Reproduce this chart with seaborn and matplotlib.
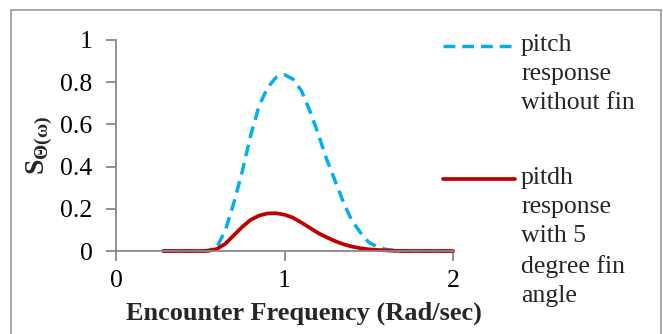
import pandas as pd
import matplotlib.pyplot as plt
import seaborn as sns
from matplotlib.patches import Rectangle
from matplotlib.lines import Line2D

# Encounter frequency (rad/sec) and pitch response spectra
freq = [0.28, 0.35, 0.4, 0.45, 0.5, 0.55, 0.6, 0.65, 0.7, 0.75, 0.8, 0.85, 0.9, 0.95,
        1.0, 1.05, 1.1, 1.15, 1.2, 1.25, 1.3, 1.35, 1.4, 1.45, 1.5, 1.55, 1.6, 1.65,
        1.7, 1.8, 1.9, 2.0]
pitch_no_fin = [0.0, 0.0, 0.0, 0.0, 0.0, 0.003, 0.02, 0.10, 0.23, 0.38, 0.55, 0.69, 0.775, 0.823,
                0.835, 0.815, 0.76, 0.665, 0.555, 0.435, 0.333, 0.23, 0.144, 0.088, 0.041, 0.02, 0.008, 0.003,
                0.001, 0.0, 0.0, 0.0]
pitch_fin5 = [0.0, 0.0, 0.0, 0.0, 0.0, 0.001, 0.01, 0.035, 0.075, 0.115, 0.148, 0.168, 0.178, 0.179,
              0.172, 0.158, 0.135, 0.11, 0.085, 0.065, 0.047, 0.032, 0.021, 0.013, 0.008, 0.005, 0.003, 0.001,
              0.0, 0.0, 0.0, 0.0]

xticks = [0, 1, 2]
yticks = [0, 0.2, 0.4, 0.6, 0.8, 1.0]
ytick_labels = ['0', '0.2', '0.4', '0.6', '0.8', '1']

label_no_fin = 'pitch\nresponse\nwithout fin'
label_fin5 = 'pitdh\nresponse\nwith 5\ndegree fin\nangle'

blue = '#00B0F0'
red = '#C00000'
blue_dash = (0, (3.4, 2.0))

sns.set_style('white')
plt.rcParams['font.family'] = ['Liberation Serif', 'DejaVu Serif']
plt.rcParams['mathtext.fontset'] = 'custom'
plt.rcParams['mathtext.rm'] = 'Liberation Serif'
plt.rcParams['mathtext.bf'] = 'Liberation Serif:bold'

fig = plt.figure(figsize=(6.63, 3.34), dpi=100)
ax = fig.add_axes([116 / 663, 1 - 251 / 334, (453 - 116) / 663, (251 - 40) / 334])

df = pd.DataFrame({'freq': freq, 'no_fin': pitch_no_fin, 'fin5': pitch_fin5})

sns.lineplot(data=df, x='freq', y='no_fin', ax=ax, color=blue, linewidth=2.5,
             linestyle=blue_dash, clip_on=False)
sns.lineplot(data=df, x='freq', y='fin5', ax=ax, color=red, linewidth=2.7,
             clip_on=False)

ax.set_xlim(0, 2)
ax.set_ylim(0, 1)
ax.set_xticks(xticks)
ax.set_xticklabels([str(t) for t in xticks])
ax.set_yticks(yticks)
ax.set_yticklabels(ytick_labels)

grey = '#898989'
for side in ['top', 'right']:
    ax.spines[side].set_visible(False)
for side in ['left', 'bottom']:
    ax.spines[side].set_color(grey)
    ax.spines[side].set_linewidth(1.3)
ax.tick_params(axis='both', direction='out', length=7, width=1.3, color=grey,
               labelsize=18.5, labelcolor='black', bottom=True, left=True)
ax.tick_params(axis='y', pad=10)
ax.tick_params(axis='x', pad=7)

ax.set_xlabel('Encounter Frequency (Rad/sec)', fontsize=19, fontweight='bold')
ax.xaxis.set_label_coords((304 - 116) / 337, (251 - 302) / 211)
ax.set_ylabel(r'$\mathbf{S}_{\mathbf{\Theta(\omega)}}$', fontsize=20)
ax.yaxis.set_label_coords((55 - 116) / 337, 0.5)

# legend drawn by hand: key beside the first line of each multi-line label
for label, color, style, lw, key_y, top_y in [
        (label_no_fin, blue, blue_dash, 2.5, 46, 34),
        (label_fin5, red, '-', 2.7, 179, 167)]:
    fig.add_artist(Line2D([443 / 663, 515 / 663], [1 - key_y / 334] * 2,
                          transform=fig.transFigure, color=color,
                          linestyle=style, linewidth=lw))
    fig.text(521 / 663, 1 - top_y / 334, label, fontsize=18.5, va='top',
             ha='left', linespacing=1.42)

fig.patches.append(Rectangle((11 / 663, -0.05), (661 - 11) / 663, 1 - 10 / 334 + 0.05,
                             transform=fig.transFigure, fill=False,
                             edgecolor='#9a9a9a', linewidth=1.2))

fig.savefig('out.png', dpi=100)
